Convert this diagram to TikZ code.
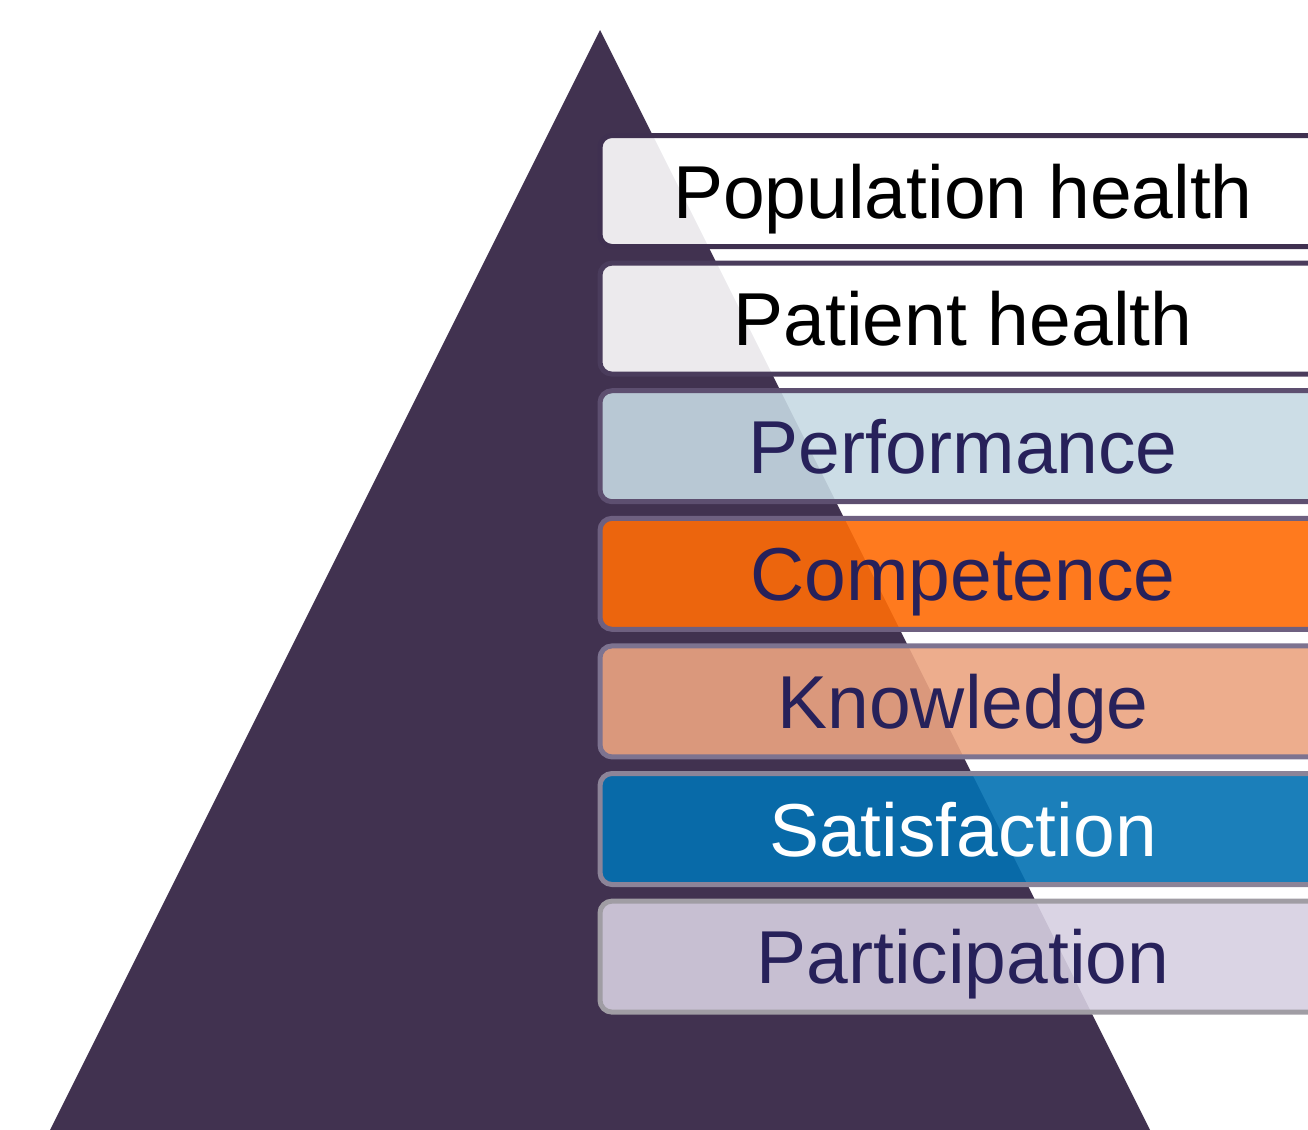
\documentclass[tikz,border=0pt]{standalone}
\usepackage{fontspec}
\setmainfont{Liberation Sans}
\usepackage{tikz}
\usetikzlibrary{positioning}

\definecolor{pyramid}{HTML}{413250}
\definecolor{labelblue}{HTML}{27215A}
\definecolor{perffill}{HTML}{C6D9E3}
\definecolor{compfill}{HTML}{FF6B06}
\definecolor{knowfill}{HTML}{EBA481}
\definecolor{satfill}{HTML}{0271B2}
\definecolor{partfill}{HTML}{D6CFE1}
\definecolor{popline}{HTML}{3F3050}
\definecolor{patline}{HTML}{4A3C5C}
\definecolor{perfline}{HTML}{5D4F70}
\definecolor{compline}{HTML}{6E6080}
\definecolor{knowline}{HTML}{7D7390}
\definecolor{satline}{HTML}{8C8498}
\definecolor{partline}{HTML}{A09DA4}

\begin{document}
\begin{tikzpicture}[x=0.5pt,y=-0.5pt,
  level/.style={rectangle, rounded corners=6pt, line width=2.5pt,
    minimum width=363pt, minimum height=55.5pt, outer sep=0pt,
    text height=27pt, text depth=0pt,
    fill opacity=0.9, text opacity=1,
    font=\fontsize{37.5}{45}\selectfont},
  node distance=8.3pt]
\clip (0,0) rectangle (1308,1130);

% pyramid
\fill[pyramid] (600,30) -- (1150,1130) -- (50,1130) -- cycle;

% levels
\node[level, draw=popline, fill=white, text=black] (pop) at (963,191) {Population health};
\node[level, draw=patline, fill=white, text=black, below=of pop] (pat) {Patient health};
\node[level, draw=perfline, fill=perffill, text=labelblue, below=of pat] (perf) {Performance};
\node[level, draw=compline, fill=compfill, text=labelblue, below=of perf] (comp) {Competence};
\node[level, draw=knowline, fill=knowfill, text=labelblue, below=of comp] (know) {Knowledge};
\node[level, draw=satline, fill=satfill, text=white, below=of know] (sat) {Satisfaction};
\node[level, draw=partline, fill=partfill, text=labelblue, below=of sat] (part) {Participation};
\end{tikzpicture}
\end{document}
